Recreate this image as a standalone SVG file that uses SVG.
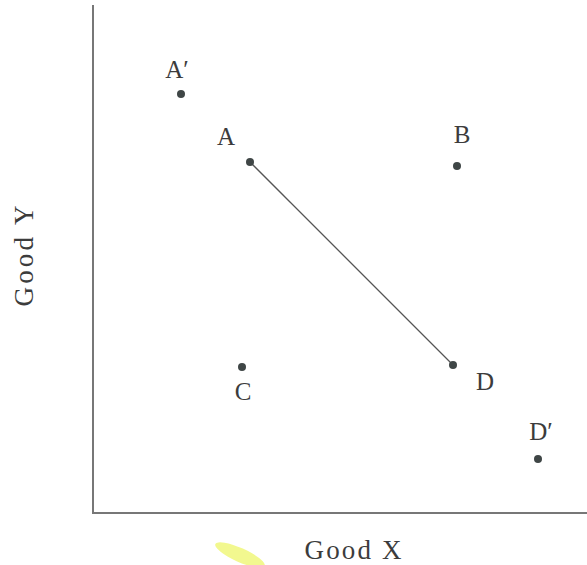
<svg xmlns="http://www.w3.org/2000/svg" width="587" height="565" viewBox="0 0 587 565">
<style>
.lbl{font-family:"Liberation Serif","DejaVu Serif",serif;font-size:25px;fill:#3c3c3c;text-anchor:middle}
.ax{font-size:27px}
.dot{fill:#3f4646}
.axis{stroke:#777;stroke-width:2;fill:none}
</style>
<rect width="587" height="565" fill="#ffffff"/>
<ellipse cx="240" cy="555" rx="27" ry="7" transform="rotate(24 240 555)" fill="#eef56a" opacity="0.75"/>
<g id="axes">
<path class="axis" d="M93,5 V513 H587"/>
<text class="lbl ax" x="353" y="559" textLength="97" lengthAdjust="spacing">Good X</text>
<text class="lbl ax" transform="translate(33,256) rotate(-90)" textLength="101" lengthAdjust="spacing">Good Y</text>
</g>
<g id="connectors">
<line x1="250" y1="162" x2="453" y2="365" stroke="#555" stroke-width="1.3"/>
</g>
<g id="A-prime"><circle class="dot" cx="181" cy="94" r="4"/><text class="lbl" x="177" y="78">A′</text></g>
<g id="A"><circle class="dot" cx="250" cy="162" r="4"/><text class="lbl" x="226" y="145">A</text></g>
<g id="B"><circle class="dot" cx="457" cy="166" r="4"/><text class="lbl" x="462" y="143">B</text></g>
<g id="C"><circle class="dot" cx="242" cy="367" r="4"/><text class="lbl" x="243" y="400">C</text></g>
<g id="D"><circle class="dot" cx="453" cy="365" r="4"/><text class="lbl" x="485" y="390">D</text></g>
<g id="D-prime"><circle class="dot" cx="538" cy="459" r="4"/><text class="lbl" x="541" y="440">D′</text></g>
</svg>
